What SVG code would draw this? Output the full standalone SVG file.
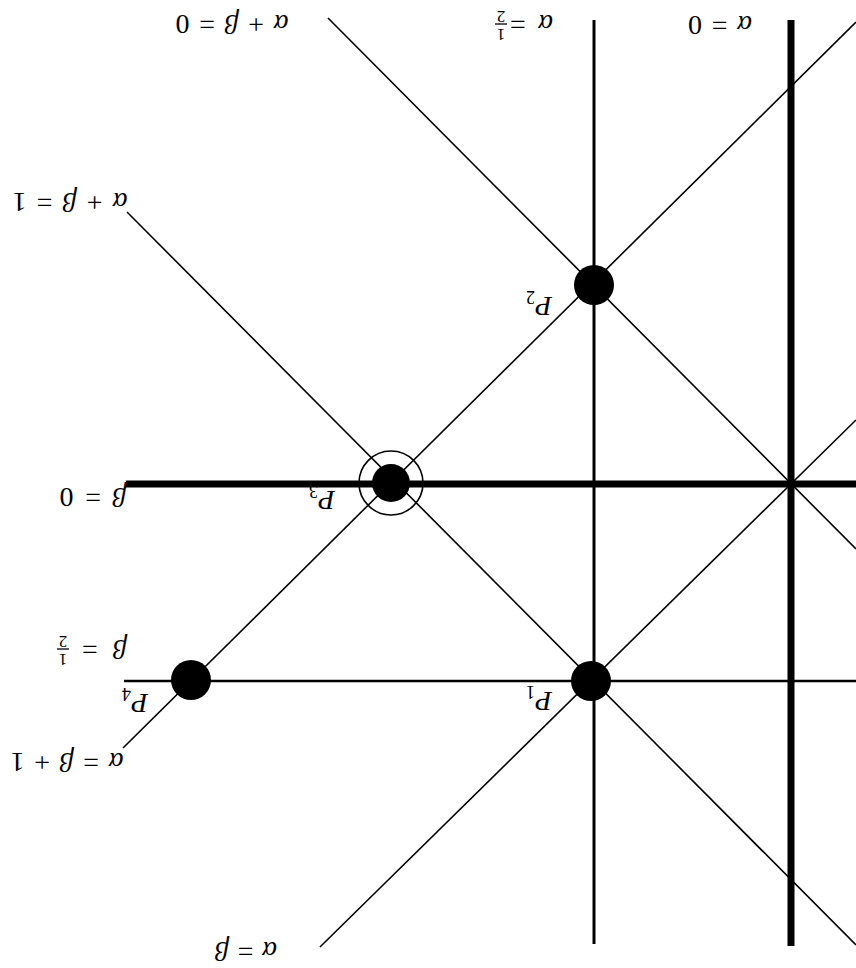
<svg xmlns="http://www.w3.org/2000/svg" width="856" height="968" viewBox="0 0 856 968">
<style>
.thick{stroke:#000;stroke-width:7;fill:none}
.mid{stroke:#000;stroke-width:3;fill:none}
.thin{stroke:#000;stroke-width:1.6;fill:none}
.pt{fill:#000}
.ring{fill:none;stroke:#000;stroke-width:1.6}
text{font-family:"Liberation Serif","Times New Roman",serif;font-size:28px;fill:#000}
.i{font-style:italic}
.fr{font-size:17px}
.sub{font-size:18px}
</style>
<rect width="856" height="968" fill="#fff"/>
<g id="connectors">
<line class="thick" x1="791" y1="20" x2="791" y2="946"/>
<line class="thick" x1="126" y1="484" x2="856" y2="484"/>
<line class="mid" x1="594" y1="20" x2="594" y2="944"/>
<line class="mid" x1="124" y1="681" x2="856" y2="681" style="stroke-width:2.5"/>
<line class="thin" x1="328" y1="18" x2="856" y2="549"/>
<line class="thin" x1="127" y1="212" x2="856" y2="945"/>
<line class="thin" x1="123" y1="748" x2="856" y2="22"/>
<line class="thin" x1="320" y1="947" x2="856" y2="420"/>
</g>
<g id="P1"><circle class="pt" cx="591" cy="681" r="20"/>
<g transform="rotate(180 539 698)"><text class="i" x="539" y="704" text-anchor="middle">P<tspan class="sub" dy="6" font-style="normal">1</tspan></text></g></g>
<g id="P2"><circle class="pt" cx="594" cy="285" r="20"/>
<g transform="rotate(180 539 303)"><text class="i" x="539" y="309" text-anchor="middle">P<tspan class="sub" dy="6" font-style="normal">2</tspan></text></g></g>
<g id="P3"><circle class="pt" cx="391" cy="483" r="19"/><circle class="ring" cx="391" cy="483" r="32"/>
<g transform="rotate(180 322 497)"><text class="i" x="322" y="503" text-anchor="middle">P<tspan class="sub" dy="6" font-style="normal">3</tspan></text></g></g>
<g id="P4"><circle class="pt" cx="191" cy="680" r="20"/>
<g transform="rotate(180 135 700)"><text class="i" x="135" y="706" text-anchor="middle">P<tspan class="sub" dy="6" font-style="normal">4</tspan></text></g></g>
<g id="label-a-plus-b-0" transform="rotate(180 232 25)"><text x="175.5" y="35" textLength="113" lengthAdjust="spacing"><tspan class="i">α</tspan> + <tspan class="i">β</tspan> = 0</text></g>
<g id="label-a-0" transform="rotate(180 720 26)"><text x="688" y="36" textLength="64" lengthAdjust="spacing"><tspan class="i">α</tspan> = 0</text></g>
<g id="label-a-plus-b-1" transform="rotate(180 70 203)"><text x="12.5" y="213" textLength="115" lengthAdjust="spacing"><tspan class="i">α</tspan> + <tspan class="i">β</tspan> = 1</text></g>
<g id="label-b-0" transform="rotate(180 93 498)"><text x="59.5" y="508" textLength="67" lengthAdjust="spacing"><tspan class="i">β</tspan> = 0</text></g>
<g id="label-a-b-1" transform="rotate(180 67 763)"><text x="10.5" y="773" textLength="113" lengthAdjust="spacing"><tspan class="i">α</tspan> = <tspan class="i">β</tspan> + 1</text></g>
<g id="label-a-b" transform="rotate(180 246 952)"><text x="215" y="962" textLength="62" lengthAdjust="spacing"><tspan class="i">α</tspan> = <tspan class="i">β</tspan></text></g>
<g id="label-b-half" transform="rotate(180 92 650)">
<text x="57" y="660" textLength="45" lengthAdjust="spacing"><tspan class="i">β</tspan> =</text>
<text class="fr" x="121" y="646" text-anchor="middle">1</text>
<line x1="115" y1="651" x2="127" y2="651" stroke="#000" stroke-width="1.3"/>
<text class="fr" x="121" y="664" text-anchor="middle">2</text>
</g>
<g id="label-a-half" transform="rotate(180 524 25)">
<text x="495" y="35" textLength="43" lengthAdjust="spacing"><tspan class="i">α</tspan> =</text>
<text class="fr" x="547" y="21" text-anchor="middle">1</text>
<line x1="541" y1="26" x2="553" y2="26" stroke="#000" stroke-width="1.3"/>
<text class="fr" x="547" y="39" text-anchor="middle">2</text>
</g>
</svg>
